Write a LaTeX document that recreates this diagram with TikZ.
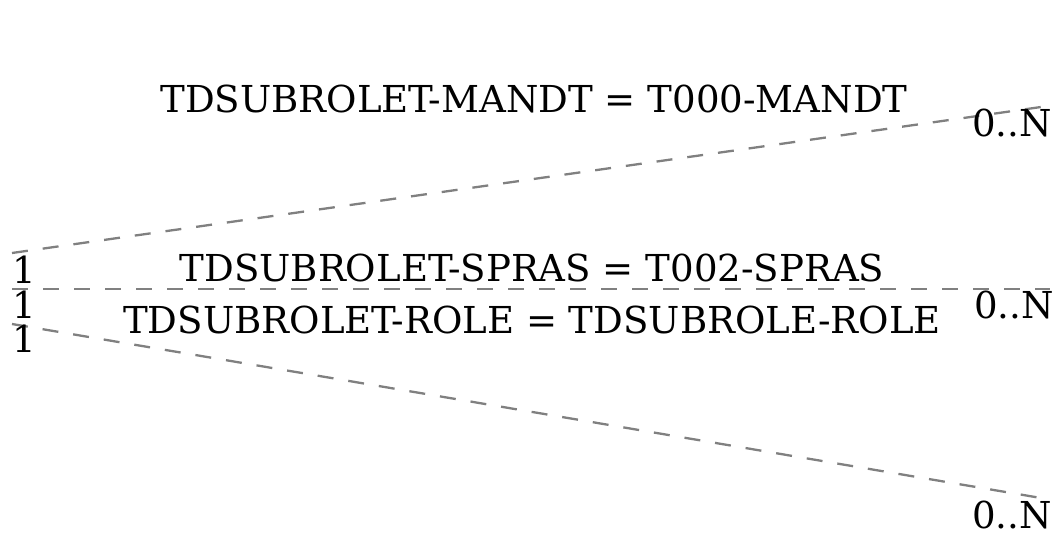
\documentclass[tikz,border=0pt]{standalone}
\usepackage{fontspec}
\setmainfont{DejaVu Serif}
\begin{document}
\begin{tikzpicture}[x=1pt,y=-1pt,
  rel/.style={draw={rgb,255:red,128;green,128;blue,128}, line width=2.3pt, dash pattern=on 16pt off 15pt},
  lbl/.style={inner sep=0pt, anchor=base, font=\fontsize{37.1}{40}\selectfont},
  card/.style={inner sep=0pt, anchor=base west, font=\fontsize{37.1}{40}\selectfont}]
\useasboundingbox (0,0) rectangle (1056,535);
\coordinate (a1) at (12,253);
\coordinate (b1) at (1048,106);
\coordinate (a2) at (12,289);
\coordinate (b2) at (1050,289);
\coordinate (a3) at (12,324);
\coordinate (b3) at (1047,499);
\draw[rel] (a1) -- (b1);
\draw[rel] (a2) -- (b2);
\draw[rel] (a3) -- (b3);
\node[lbl] (t1) at (534,112) {TDSUBROLET-MANDT = T000-MANDT};
\node[lbl] (t2) at (532,281) {TDSUBROLET-SPRAS = T002-SPRAS};
\node[lbl] (t3) at (532,333) {TDSUBROLET-ROLE = TDSUBROLE-ROLE};
\node[card] (s1) at (12,283) {1};
\node[card] (s2) at (12,318) {1};
\node[card] (s3) at (12,352) {1};
\node[card] (e1) at (972,136) {0..N};
\node[card] (e2) at (974,318) {0..N};
\node[card] (e3) at (972,528) {0..N};
\end{tikzpicture}
\end{document}
